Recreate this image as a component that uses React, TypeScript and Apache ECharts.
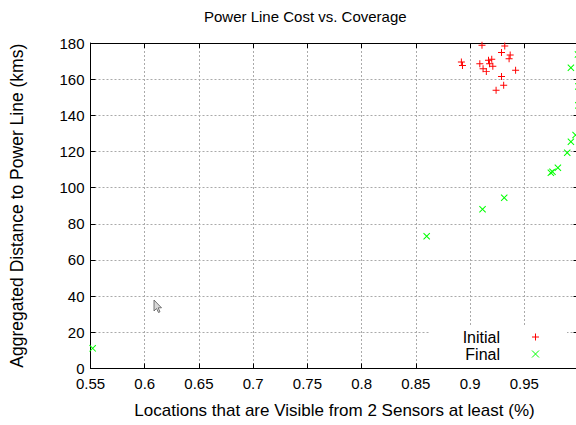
import React, { useEffect, useRef } from "react";
import * as echarts from "echarts";

const titleText = "Power Line Cost vs. Coverage";
const xAxisName = "Locations that are Visible from 2 Sensors at least (%)";
const yAxisName = "Aggregated Distance to Power Line (kms)";
const seriesNames = ["Initial", "Final"];
const seriesColors = ["#ff0000", "#00ff00"];

const initialX = [0.911, 0.932, 0.929, 0.937, 0.936, 0.892, 0.893, 0.909, 0.917, 0.92, 0.918, 0.921, 0.912, 0.915, 0.942, 0.929, 0.931, 0.924];
const initialY = [178.7, 178.3, 174.8, 173.3, 171.3, 169.5, 167.6, 168.5, 170.4, 171.0, 168.5, 167.1, 165.8, 164.3, 164.9, 161.5, 156.6, 153.8];

const finalX = [0.552, 0.86, 0.9115, 0.9315, 0.9745, 0.976, 0.981, 0.9896, 0.993, 0.9973, 0.993, 0.9995, 0.9999, 0.9999];
const finalY = [11.1, 73.1, 88.0, 94.4, 108.2, 108.8, 111.0, 119.3, 125.4, 129.1, 166.3, 173.7, 156.0, 145.5];

const xMin = 0.55;
const xMax = 1.0;
const xStep = 0.05;
const yMin = 0;
const yMax = 180;
const yStep = 20;

const PLUS = "path://M0,4.3L10,4.3L10,5.7L0,5.7Z M4.3,0L5.7,0L5.7,10L4.3,10Z";
const CROSS = "path://M0,1L1,0L10,9L9,10Z M9,0L10,1L1,10L0,9Z";

const FONT = "Liberation Sans";

export default function App() {
  const ref = useRef<HTMLDivElement>(null);
  useEffect(() => {
    document.body.style.margin = "0";
    if (!ref.current) return;
    const chart = echarts.init(ref.current, null, { renderer: "svg" });
    const gridLine = { show: true, lineStyle: { color: "#aaaaaa", type: [2, 2] as any, width: 1 } };
    const border = { show: true, onZero: false, lineStyle: { color: "#000", width: 1 } };
    const tick = { show: true, inside: true, length: 5, lineStyle: { color: "#000" } };
    const lx = 535.5;
    const ly = [337, 354];
    const h = 3.5;
    chart.setOption({
      animation: false,
      backgroundColor: "#ffffff",
      color: seriesColors,
      textStyle: { fontFamily: FONT },
      title: {
        text: titleText,
        left: 199,
        top: 4,
        textStyle: { fontFamily: FONT, fontSize: 15, fontWeight: "normal", color: "#000" },
      },
      grid: {
        left: 90.5,
        top: 43,
        width: 488,
        height: 325.4,
        containLabel: false,
        outerBoundsMode: "none",
      },
      xAxis: [
        {
          type: "value",
          min: xMin,
          max: xMax,
          interval: xStep,
          name: xAxisName,
          nameLocation: "middle",
          nameGap: 34,
          nameTextStyle: { fontFamily: FONT, fontSize: 17, color: "#000" },
          axisLine: border,
          axisTick: tick,
          axisLabel: {
            fontFamily: FONT,
            fontSize: 15,
            color: "#000",
            margin: 8,
            showMaxLabel: false,
            formatter: (v: number) => (v > 0.99 ? "" : String(+v.toFixed(2))),
          },
          splitLine: gridLine,
        },
        {
          type: "value",
          position: "top",
          min: xMin,
          max: xMax,
          interval: xStep,
          axisLine: border,
          axisTick: tick,
          axisLabel: { show: false },
          splitLine: { show: false },
        },
      ],
      yAxis: [
        {
          type: "value",
          min: yMin,
          max: yMax,
          interval: yStep,
          name: yAxisName,
          nameLocation: "middle",
          nameGap: 65,
          nameTextStyle: { fontFamily: FONT, fontSize: 17.5, color: "#000" },
          axisLine: border,
          axisTick: tick,
          axisLabel: { fontFamily: FONT, fontSize: 15, color: "#000", margin: 6 },
          splitLine: gridLine,
        },
        {
          type: "value",
          position: "right",
          min: yMin,
          max: yMax,
          interval: yStep,
          axisLine: border,
          axisTick: tick,
          axisLabel: { show: false },
          splitLine: { show: false },
        },
      ],
      graphic: [
        {
          type: "rect",
          z: 5,
          shape: { x: 430, y: 325, width: 137, height: 43 },
          style: { fill: "#ffffff" },
        },
        {
          type: "text",
          z: 6,
          x: 500,
          y: ly[0],
          style: { text: seriesNames[0], fill: "#000", font: `16px "${FONT}"`, align: "right", verticalAlign: "middle" },
        },
        {
          type: "text",
          z: 6,
          x: 500,
          y: ly[1],
          style: { text: seriesNames[1], fill: "#000", font: `16px "${FONT}"`, align: "right", verticalAlign: "middle" },
        },
        { type: "line", z: 6, shape: { x1: lx - h, y1: ly[0], x2: lx + h, y2: ly[0] }, style: { stroke: seriesColors[0], lineWidth: 1 } },
        { type: "line", z: 6, shape: { x1: lx, y1: ly[0] - h, x2: lx, y2: ly[0] + h }, style: { stroke: seriesColors[0], lineWidth: 1 } },
        { type: "line", z: 6, shape: { x1: lx - h, y1: ly[1] - h, x2: lx + h, y2: ly[1] + h }, style: { stroke: seriesColors[1], lineWidth: 1 } },
        { type: "line", z: 6, shape: { x1: lx - h, y1: ly[1] + h, x2: lx + h, y2: ly[1] - h }, style: { stroke: seriesColors[1], lineWidth: 1 } },
        {
          type: "polygon",
          z: 6,
          shape: {
            points: [
              [154, 300],
              [154, 311],
              [156.5, 308.5],
              [158.5, 312.5],
              [160, 311.8],
              [158.2, 307.8],
              [161.5, 307.8],
            ],
          },
          style: { fill: "#d8d8d8", stroke: "#555", lineWidth: 0.8 },
        },
      ],
      series: [
        {
          name: seriesNames[0],
          type: "scatter",
          symbol: PLUS,
          symbolSize: 7,
          itemStyle: { color: seriesColors[0], opacity: 1 },
          data: initialX.map((x, i) => [x, initialY[i]]),
        },
        {
          name: seriesNames[1],
          type: "scatter",
          symbol: CROSS,
          symbolSize: 7,
          itemStyle: { color: seriesColors[1], opacity: 1 },
          data: finalX.map((x, i) => [x, finalY[i]]),
        },
      ],
    });
    return () => chart.dispose();
  }, []);
  return <div ref={ref} style={{ width: 576, height: 425 }} />;
}
